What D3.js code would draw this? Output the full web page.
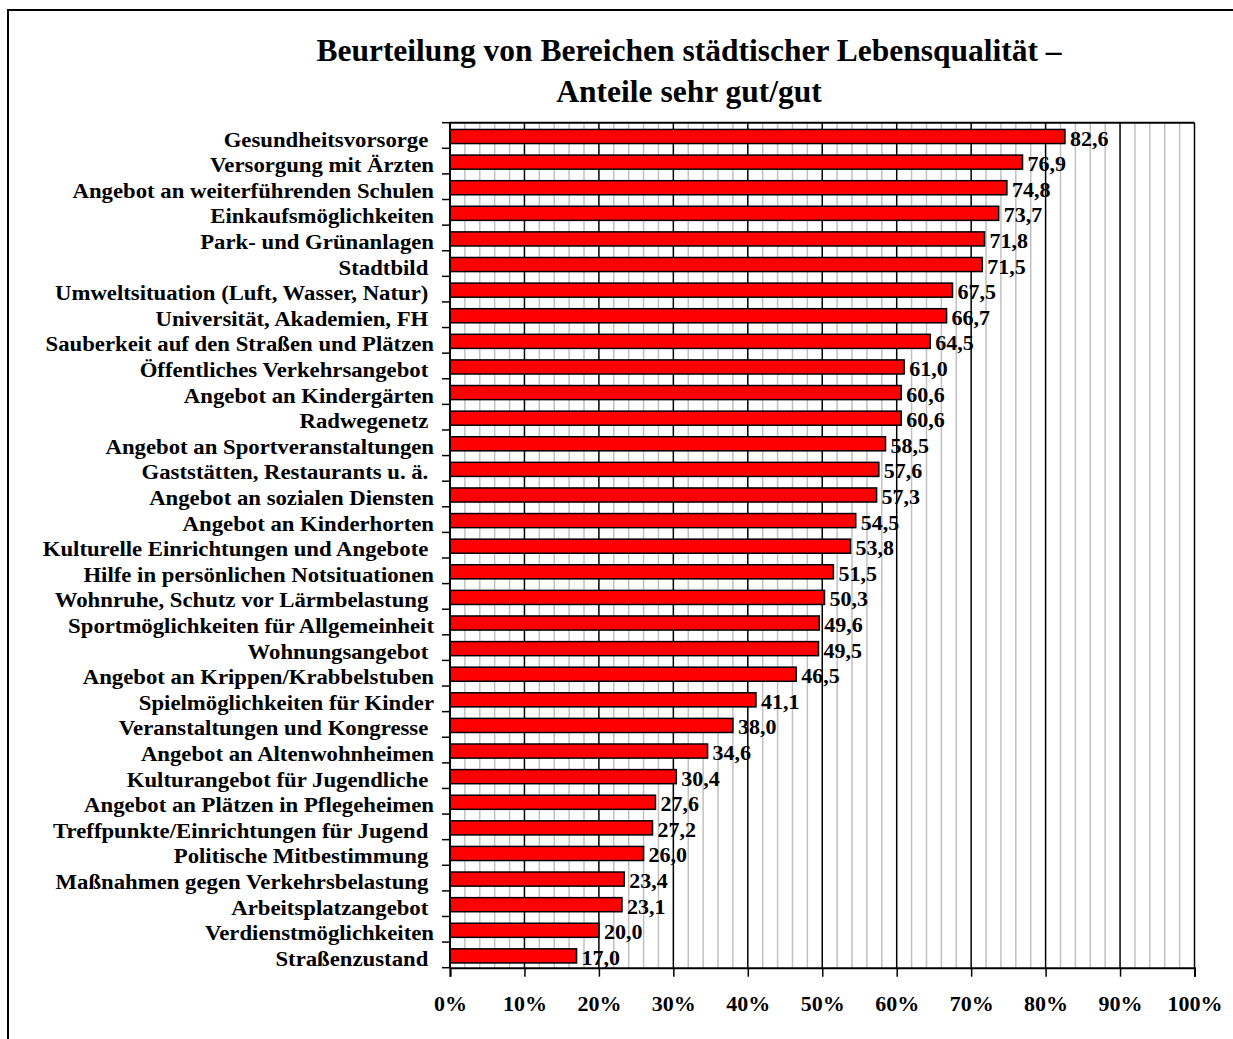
<!DOCTYPE html>
<html>
<head>
<meta charset="utf-8">
<script src="https://cdn.jsdelivr.net/npm/d3@7"></script>
<style>
  body { margin: 0; background: #fff; }
  text { font-family: "Liberation Serif", "Times New Roman", serif; font-weight: bold; }
</style>
</head>
<body>
<div id="chart"></div>
<script>
// categories top to bottom, trailing blanks kept as in the original sheet
const categories = [
    "Gesundheitsvorsorge ", "Versorgung mit Ärzten", "Angebot an weiterführenden Schulen",
    "Einkaufsmöglichkeiten", "Park- und Grünanlagen", "Stadtbild ",
    "Umweltsituation (Luft, Wasser, Natur) ", "Universität, Akademien, FH ",
    "Sauberkeit auf den Straßen und Plätzen", "Öffentliches Verkehrsangebot ",
    "Angebot an Kindergärten", "Radwegenetz ", "Angebot an Sportveranstaltungen",
    "Gaststätten, Restaurants u. ä. ", "Angebot an sozialen Diensten", "Angebot an Kinderhorten",
    "Kulturelle Einrichtungen und Angebote ", "Hilfe in persönlichen Notsituationen",
    "Wohnruhe, Schutz vor Lärmbelastung ", "Sportmöglichkeiten für Allgemeinheit",
    "Wohnungsangebot ", "Angebot an Krippen/Krabbelstuben", "Spielmöglichkeiten für Kinder",
    "Veranstaltungen und Kongresse ", "Angebot an Altenwohnheimen", "Kulturangebot für Jugendliche ",
    "Angebot an Plätzen in Pflegeheimen", "Treffpunkte/Einrichtungen für Jugend ",
    "Politische Mitbestimmung ", "Maßnahmen gegen Verkehrsbelastung ", "Arbeitsplatzangebot ",
    "Verdienstmöglichkeiten", "Straßenzustand "
];
const values = [
    82.6, 76.9, 74.8, 73.7, 71.8, 71.5, 67.5, 66.7, 64.5, 61.0, 60.6, 60.6, 58.5,
    57.6, 57.3, 54.5, 53.8, 51.5, 50.3, 49.6, 49.5, 46.5, 41.1, 38.0, 34.6, 30.4,
    27.6, 27.2, 26.0, 23.4, 23.1, 20.0, 17.0
];
const titleLines = ["Beurteilung von Bereichen städtischer Lebensqualität –", "Anteile sehr gut/gut"];
const xTicks = [0, 10, 20, 30, 40, 50, 60, 70, 80, 90, 100];

const data = categories.map((c, i) => ({ cat: c, value: values[i] }));

const width = 1233, height = 1039;
const plot = { left: 450, right: 1194.5, top: 122.7, bottom: 967.7 };

const svg = d3.select("#chart").append("svg")
    .attr("width", width)
    .attr("height", height);

// outer frame (runs off the right and bottom edge like the scan)
svg.append("rect")
    .attr("x", 8).attr("y", 10)
    .attr("width", 1300).attr("height", 1100)
    .attr("fill", "none")
    .attr("stroke", "#000")
    .attr("stroke-width", 2);

svg.selectAll(".title")
    .data(titleLines)
    .enter()
    .append("text")
    .attr("class", "title")
    .attr("transform", (d, i) => `translate(689, ${61 + i * 40.7})`)
    .attr("text-anchor", "middle")
    .style("font-size", "31.5px")
    .text(d => d);

const x = d3.scaleLinear().domain([0, 100]).range([plot.left, plot.right]);
const y = d3.scaleBand()
    .domain(categories)
    .range([plot.top, plot.bottom])
    .paddingInner(0.45)
    .paddingOuter(0.225);

// grid: light lines every 2 %, black every 10 %
svg.append("g")
    .selectAll("line")
    .data(d3.range(2, 100, 2).filter(v => v % 10 !== 0))
    .enter()
    .append("line")
    .attr("x1", d => x(d)).attr("x2", d => x(d))
    .attr("y1", plot.top).attr("y2", plot.bottom)
    .attr("stroke", "#c0c0c0")
    .attr("stroke-width", 1.5);

svg.append("g")
    .selectAll("line")
    .data(xTicks.slice(1))
    .enter()
    .append("line")
    .attr("x1", d => x(d)).attr("x2", d => x(d))
    .attr("y1", plot.top).attr("y2", plot.bottom)
    .attr("stroke", "#000")
    .attr("stroke-width", 1.5);

svg.append("line")
    .attr("x1", plot.left).attr("x2", plot.right)
    .attr("y1", plot.top).attr("y2", plot.top)
    .attr("stroke", "#000")
    .attr("stroke-width", 2);

// bars
svg.append("g")
    .selectAll("rect")
    .data(data)
    .enter()
    .append("rect")
    .attr("x", x(0))
    .attr("y", d => y(d.cat) + 1)
    .attr("width", d => x(d.value) - x(0))
    .attr("height", y.bandwidth())
    .attr("fill", "#ff0000")
    .attr("stroke", "#000")
    .attr("stroke-width", 1.5);

// value labels
svg.append("g")
    .selectAll("text")
    .data(data)
    .enter()
    .append("text")
    .attr("x", d => x(d.value) + 5)
    .attr("y", d => y(d.cat) + y.bandwidth() / 2 + 10)
    .style("font-size", "22px")
    .text(d => d3.format(".1f")(d.value).replace(".", ","));

// y axis: ticks at category borders
const yAxis = svg.append("g");
yAxis.append("line")
    .attr("x1", plot.left).attr("x2", plot.left)
    .attr("y1", plot.top).attr("y2", plot.bottom)
    .attr("stroke", "#000").attr("stroke-width", 2);
yAxis.selectAll(".tick")
    .data(d3.range(categories.length + 1))
    .enter()
    .append("line")
    .attr("x1", plot.left - 8).attr("x2", plot.left)
    .attr("y1", i => plot.top + i * y.step())
    .attr("y2", i => plot.top + i * y.step())
    .attr("stroke", "#000").attr("stroke-width", 1.5);
yAxis.selectAll(".label")
    .data(data)
    .enter()
    .append("text")
    .attr("transform", d => `translate(434, ${y(d.cat) + y.bandwidth() / 2 + 11}) scale(1.11, 1)`)
    .attr("text-anchor", "end")
    .style("white-space", "pre")
    .style("font-size", "20.5px")
    .text(d => d.cat);

// x axis
const xAxis = d3.axisBottom(x)
    .tickValues(xTicks)
    .tickSize(9)
    .tickFormat(d => d + "%");

svg.append("g")
    .attr("transform", `translate(0, ${plot.bottom})`)
    .call(xAxis)
    .call(g => g.select(".domain").attr("stroke-width", 2))
    .call(g => g.selectAll(".tick line").attr("stroke-width", 1.5))
    .call(g => g.selectAll(".tick text")
        .attr("y", 28)
        .attr("dy", "0.71em")
        .attr("fill", "#000")
        .style("font-family", "'Liberation Serif', serif")
        .style("font-weight", "bold")
        .style("font-size", "22px"));
</script>
</body>
</html>
